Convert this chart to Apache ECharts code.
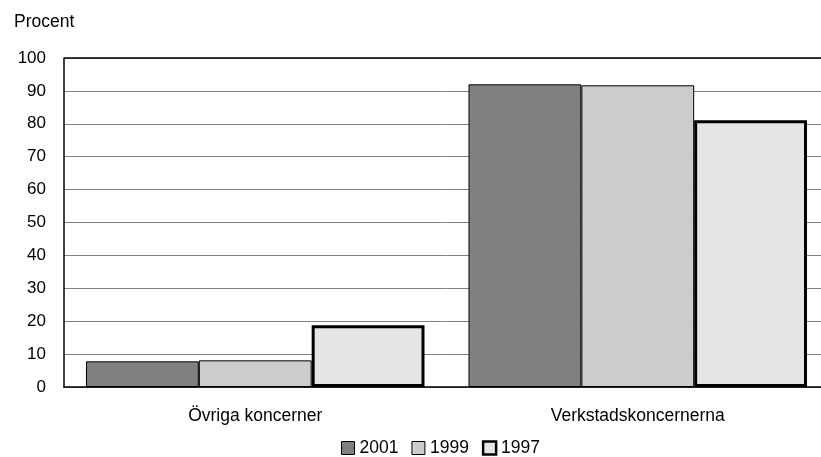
<!DOCTYPE html>
<html>
<head>
<meta charset="utf-8">
<script src="https://cdn.jsdelivr.net/npm/echarts@6/dist/echarts.min.js"></script>
<style>html,body{margin:0;padding:0;background:#fff;overflow:hidden;width:821px;height:457px}#c{width:829px;height:457px}</style>
</head>
<body>
<div id="c"></div>
<script>
const categories = ['Övriga koncerner', 'Verkstadskoncernerna'];
const seriesNames = ['2001', '1999', '1997'];
const values2001 = [7.8, 92.0];
const values1999 = [8.1, 91.7];
const values1997 = [18.8, 81.1];
const yTicks = [0, 10, 20, 30, 40, 50, 60, 70, 80, 90, 100];

const font = 'Liberation Sans, Arial, sans-serif';
const chart = echarts.init(document.getElementById('c'), null, {renderer: 'canvas'});
const styles = [
  {color: '#808080', borderColor: '#000', borderWidth: 1},
  {color: '#cccccc', borderColor: '#000', borderWidth: 1},
  {color: '#e6e6e6', borderColor: '#000', borderWidth: 3}
];
const data = [values2001, values1999, values1997];
const series = seriesNames.map((n, i) => ({
  name: n,
  type: 'bar',
  data: data[i],
  barGap: '0%',
  barCategoryGap: '11.5%',
  itemStyle: styles[i],
  emphasis: {disabled: true}
}));
series[0].markLine = {
  silent: true, symbol: 'none', label: {show: false},
  lineStyle: {color: '#000', width: 1.5, type: 'solid'},
  data: [{yAxis: yTicks[yTicks.length - 1]}],
  animation: false
};
chart.setOption({
  animation: false,
  textStyle: {fontFamily: font},
  title: {text: 'Procent', left: 9, top: 8, textStyle: {fontFamily: font, fontSize: 17.5, fontWeight: 'normal', color: '#000'}},
  grid: {left: 64, top: 58, right: 0, bottom: 70},
  legend: {
    top: 439, left: 341, padding: 0, itemWidth: 13, itemHeight: 13, itemGap: 13,
    icon: 'rect',
    textStyle: {fontFamily: font, fontSize: 17.5, color: '#000'},
    data: seriesNames.map((n, i) => ({name: n, itemStyle: {borderWidth: i === 2 ? 2.5 : 1, borderColor: '#000'}}))
  },
  xAxis: {
    type: 'category', data: categories,
    axisLine: {lineStyle: {color: '#000', width: 1.5}},
    axisTick: {show: false},
    axisLabel: {color: '#000', fontSize: 17.5, fontFamily: font, margin: 20}
  },
  yAxis: {
    type: 'value', min: yTicks[0], max: yTicks[yTicks.length - 1], interval: 10,
    axisLine: {show: true, lineStyle: {color: '#000', width: 1.5}},
    axisTick: {show: false},
    axisLabel: {color: '#000', fontSize: 17, fontFamily: font, margin: 18},
    splitLine: {lineStyle: {color: '#808080', width: 1}}
  },
  series: series
});
</script>
</body>
</html>
